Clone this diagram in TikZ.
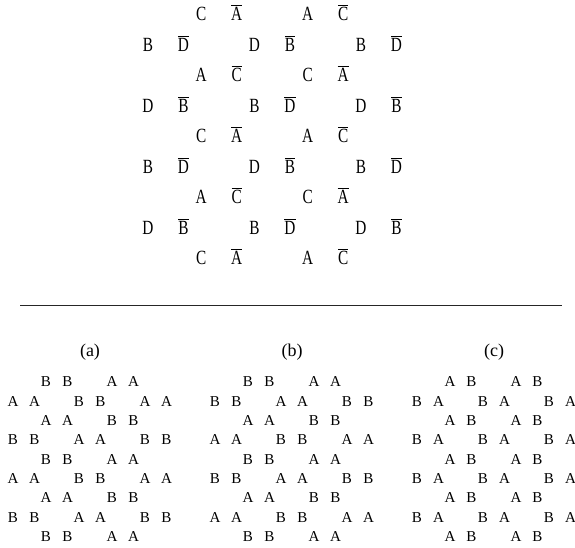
\documentclass[tikz,border=0pt]{standalone}
\usepackage{fontspec}
\setmainfont{Liberation Serif}
\newfontfamily\narrowfont[FakeStretch=0.76]{Liberation Serif}
\newcommand\nbar[1]{$\overline{\mbox{#1}}$}

\begin{document}
\begin{tikzpicture}[x=0.75pt,y=-0.75pt,
  big/.style={anchor=base,inner sep=0pt,font=\narrowfont\fontsize{15.1}{16}\selectfont},
  small/.style={anchor=base,inner sep=0pt,font=\fontsize{11.3}{12}\selectfont},
  caption/.style={anchor=base,inner sep=0pt,font=\fontsize{13.5}{14}\selectfont}]
\useasboundingbox (0,0) rectangle (575,548);
% upper pattern
\foreach \r in {0,...,8} {
  \pgfmathtruncatemacro\rowodd{mod(\r,2)}
  \ifnum\rowodd=0 \def\plist{2,4}\else\def\plist{1,3,5}\fi
  \foreach \p in \plist {
    \pgfmathtruncatemacro\stripe{mod(\p+\r,4)}
    \ifnum\rowodd=0
      \ifnum\stripe=2 \def\lft{C}\def\rgt{A}\else\def\lft{A}\def\rgt{C}\fi
    \else
      \ifnum\stripe=2 \def\lft{B}\def\rgt{D}\else\def\lft{D}\def\rgt{B}\fi
    \fi
    \node[big] (t-\r-\p-a) at ({148+53.25*(\p-1)},{20.65+30.5*\r}) {\lft};
    \node[big] (t-\r-\p-b) at ({183.5+53.25*(\p-1)},{20.65+30.5*\r}) {\nbar{\rgt}};
  }
}
% rule
\coordinate (rule-l) at (20,305.5);
\coordinate (rule-r) at (562,305.5);
\draw[line width=0.9pt,black!85] (rule-l) -- (rule-r);
% lower patterns (a), (b), (c)
\foreach \n/\off/\lab in {0/0/a,1/202/b,2/404/c} {
  \node[caption] (lab-\lab) at ({\off+90},356.5) {(\lab)};
  \foreach \k in {0,...,8} {
    \pgfmathtruncatemacro\rowodd{mod(\k,2)}
    \ifnum\rowodd=0 \def\plist{2,4}\else\def\plist{1,3,5}\fi
    \foreach \p in \plist {
      \ifcase\n
        \pgfmathtruncatemacro\stripe{mod(\p-\k+8,4)}
        \ifnum\stripe=0 \def\lft{A}\def\rgt{A}\else\def\lft{B}\def\rgt{B}\fi
      \or
        \pgfmathtruncatemacro\stripe{mod(\p+\k,4)}
        \ifnum\stripe=0 \def\lft{A}\def\rgt{A}\else\def\lft{B}\def\rgt{B}\fi
      \or
        \ifnum\rowodd=0 \def\lft{A}\def\rgt{B}\else\def\lft{B}\def\rgt{A}\fi
      \fi
      \node[small] (\lab-\k-\p-a) at ({\off+13+33*(\p-1)},{387+19.3*\k}) {\lft};
      \node[small] (\lab-\k-\p-b) at ({\off+34.5+33*(\p-1)},{387+19.3*\k}) {\rgt};
    }
  }
}
\end{tikzpicture}
\end{document}
